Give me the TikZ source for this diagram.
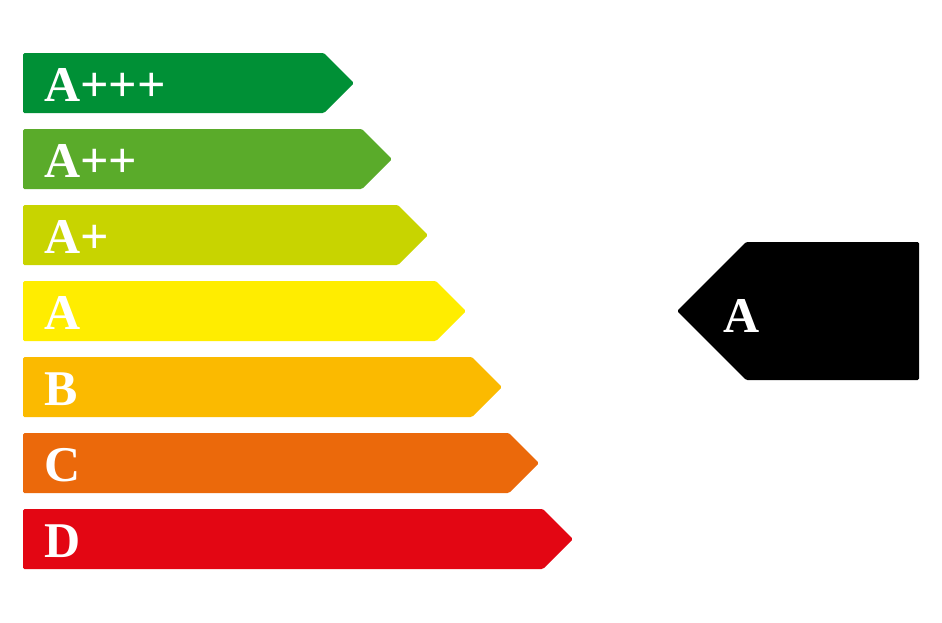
\documentclass[tikz,border=0pt]{standalone}
\usepackage{fontspec}
\setmainfont{Liberation Serif}
\definecolor{cApppp}{HTML}{009036}
\definecolor{cAppp}{HTML}{5AAB2A}
\definecolor{cApp}{HTML}{C8D400}
\definecolor{cA}{HTML}{FFED00}
\definecolor{cB}{HTML}{FBBA00}
\definecolor{cC}{HTML}{EB690B}
\definecolor{cD}{HTML}{E30613}
\tikzset{
  barshape/.style={rounded corners=1.5pt},
  lbl/.style={text=white, font=\fontsize{50}{50}\selectfont\bfseries, anchor=base west, inner sep=0pt},
}
\begin{document}
\begin{tikzpicture}[x=1pt,y=-1pt]
\useasboundingbox (0,0) rectangle (942,622);
% bars: name, top y, tip x
\foreach \n/\c/\t/\tip/\txt in {1/cApppp/53/354/A+++,2/cAppp/129/392/A++,3/cApp/205/428/A+,4/cA/281/466/A,5/cB/357/502/B,6/cC/433/539/C,7/cD/509/573/D}{
  \fill[\c, barshape] (23,\t) -- ({\tip-30},\t) -- (\tip,{\t+30}) -- ({\tip-30},{\t+60}) -- (23,{\t+60}) -- cycle;
  \node[lbl] (lbl\n) at (44,{\t+48}) {\txt};
}
% indicator
\fill[black, barshape] (677,311) -- (746,242) -- (919,242) -- (919,380) -- (746,380) -- cycle;
\node[lbl] (ind) at (723,332) {A};
\end{tikzpicture}
\end{document}
